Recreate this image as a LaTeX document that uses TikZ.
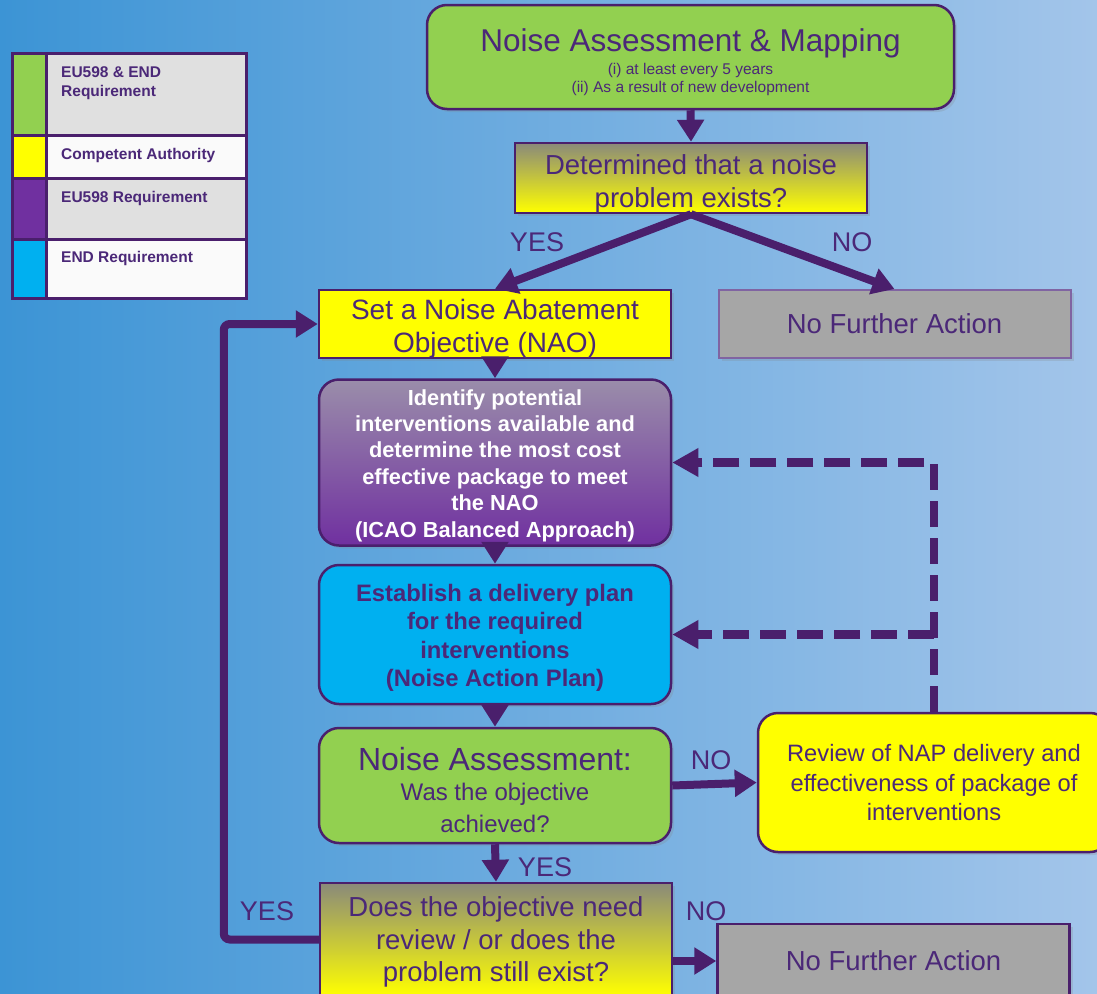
\documentclass[tikz,border=0pt]{standalone}
\usepackage{fontspec}
\setmainfont{Liberation Sans}
\usetikzlibrary{arrows.meta,shadows}
\definecolor{pline}{HTML}{4A1F6C}
\definecolor{ptext}{HTML}{4B2878}
\definecolor{bgl}{HTML}{3C94D5}
\definecolor{bgr}{HTML}{A3C5EA}
\definecolor{grn}{HTML}{92D050}
\definecolor{ylw}{HTML}{FFFF00}
\definecolor{blu}{HTML}{00B0F0}
\definecolor{prp}{HTML}{7030A0}
\definecolor{prptop}{HTML}{9A8DAA}
\definecolor{dectop}{HTML}{8A8A7A}
\definecolor{gry}{HTML}{A6A6A6}
\definecolor{nfaborder}{HTML}{8064A2}
\definecolor{lgray}{HTML}{E0E0E0}
\definecolor{lwhite}{HTML}{FAFAFA}
\newcommand\fsz[2]{\fontsize{#1}{#2}\selectfont}
\begin{document}
\begin{tikzpicture}[x=1pt,y=-1pt,
  shad/.style={drop shadow={opacity=0.22,shadow xshift=3pt,shadow yshift=-3pt}},
  box/.style={draw=pline,line width=2.5pt,inner sep=0pt,shad},
  rbox/.style={box,rounded corners=20pt},
  decbox/.style={box,top color=dectop,bottom color=ylw},
  nfabox/.style={box,fill=gry,minimum width=352pt,text=ptext},
  txt/.style={text=ptext,align=center,inner sep=0pt},
  arr/.style={draw=pline,line width=8pt,-{Triangle[length=22pt,width=26pt]}},
  dasharr/.style={draw=pline,line width=8.5pt,dash pattern=on 26pt off 11pt,line join=miter,-{Triangle[length=26pt,width=27pt]}},
  lbl/.style={text=ptext,font=\fsz{27}{32}},
  legtext/.style={text=ptext,font=\bfseries\fsz{15.5}{18},anchor=base west,inner sep=0pt}
]
\useasboundingbox (0,0) rectangle (1097,993);
\clip (0,0) rectangle (1097,993);
\fill[left color=bgl,right color=bgr] (0,0) rectangle (1097,993);

% legend
\fill[lgray] (46,53) rectangle (246,135);
\fill[lwhite] (46,135) rectangle (246,178);
\fill[lgray] (46,178) rectangle (246,239);
\fill[lwhite] (46,239) rectangle (246,298);
\fill[grn] (12,53) rectangle (46,135);
\fill[ylw] (12,135) rectangle (46,178);
\fill[prp] (12,178) rectangle (46,239);
\fill[blu] (12,239) rectangle (46,298);
\draw[pline,line width=3pt] (12,53) rectangle (246,298);
\draw[pline,line width=3pt] (46,53) -- (46,298);
\draw[pline,line width=3pt] (12,135) -- (246,135);
\draw[pline,line width=3pt] (12,178) -- (246,178);
\draw[pline,line width=3pt] (12,239) -- (246,239);
\node[legtext] (lg1a) at (61,77) {EU598 \& END};
\node[legtext] (lg1b) at (61,96) {Requirement};
\node[legtext] (lg2) at (61,159) {Competent Authority};
\node[legtext] (lg3) at (61,202) {EU598 Requirement};
\node[legtext] (lg4) at (61,262) {END Requirement};

% main boxes
\node[rbox,fill=grn,minimum width=527pt,minimum height=104pt] (top) at (690.5,57) {};
\node[txt,font=\fsz{15.5}{18}] (top-t) at ([yshift=-5pt]top.center)
  {{\fsz{31.5}{35}Noise Assessment \& Mapping}\\[5pt](i) at least every 5 years\\(ii) As a result of new development};
\node[decbox,minimum width=352pt,minimum height=70pt] (dec1) at (691,178) {};
\node[txt,font=\fsz{27.5}{33}] (dec1-t) at ([yshift=-5.5pt]dec1.center)
  {Determined that a noise\\problem exists?};
\node[box,fill=ylw,minimum width=352pt,minimum height=68pt] (nao) at (495,324) {};
\node[txt,font=\fsz{28}{33}] (nao-t) at ([yshift=-5pt]nao.center)
  {Set a Noise Abatement\\Objective (NAO)};
\node[nfabox,draw=nfaborder,line width=2pt,minimum height=68pt,font=\fsz{27.5}{33}] (nfa1) at (894.5,324)
  {No Further Action};
\node[rbox,top color=prptop,bottom color=prp,minimum width=352pt,minimum height=166pt] (ident) at (495,462.5) {};
\node[txt,text=white,font=\bfseries\fsz{21.8}{26.4}] (ident-t) at ([yshift=-3pt]ident.center)
  {Identify potential\\interventions available and\\determine the most cost\\effective package to meet\\the NAO\\(ICAO Balanced Approach)};
\node[rbox,fill=blu,minimum width=352pt,minimum height=139pt] (estab) at (495,634.5) {};
\node[txt,font=\bfseries\fsz{23.8}{28.5}] (estab-t) at ([yshift=-3.5pt]estab.center)
  {Establish a delivery plan\\for the required\\interventions\\(Noise Action Plan)};
\node[rbox,fill=grn,minimum width=352pt,minimum height=115pt] (na) at (495,785.5) {};
\node[txt,font=\fsz{24}{32}] (na-t) at ([yshift=-4.5pt]na.center)
  {{\fsz{32}{34}Noise Assessment:}\\[-1.5pt]Was the objective\\achieved?};
\node[decbox,minimum width=352pt,minimum height=113pt] (does) at (496,939.5) {};
\node[txt,font=\fsz{27.5}{32.5}] (does-t) at ([yshift=-2.5pt]does.center)
  {Does the objective need\\review / or does the\\problem still exist?};
\node[nfabox,minimum height=74pt,font=\fsz{27.5}{33}] (nfa2) at (893.5,961)
  {No Further Action};
\node[rbox,fill=ylw,minimum width=352pt,minimum height=139pt] (review) at (934,782.5) {};
\node[txt,font=\fsz{23.7}{29.5}] (review-t) at ([yshift=-0.5pt]review.center)
  {Review of NAP delivery and\\effectiveness of package of\\interventions};

% connectors
\draw[arr] (top.south) -- (dec1.north);
\draw[arr] (dec1.south) -- (nao.north);
\draw[arr] (dec1.south) -- (nfa1.north);
\draw[arr] (nao.south) -- (ident.north);
\draw[arr] (ident.south) -- (estab.north);
\draw[arr] (estab.south) -- (na.north);
\draw[arr] (na.south) -- (does.north);
\draw[arr] (na.east) -- (review.west);
\draw[arr] (does.east |- nfa2.west) -- (nfa2.west);
\draw[arr,rounded corners=6pt] (does.west) -- ++(-95,0) |- (nao.west);
\draw[dasharr] (review.north) -- (review.north |- ident.east) -- (ident.east);
\draw[dasharr] (review.north |- estab.east) -- (estab.east);

% labels
\node[lbl] (yes1) at (537,242) {YES};
\node[lbl] (no1) at (852,242) {NO};
\node[lbl] (no2) at (711,760) {NO};
\node[lbl] (yes2) at (545,867) {YES};
\node[lbl] (no3) at (706,911) {NO};
\node[lbl] (yes3) at (267,911) {YES};
\end{tikzpicture}
\end{document}
